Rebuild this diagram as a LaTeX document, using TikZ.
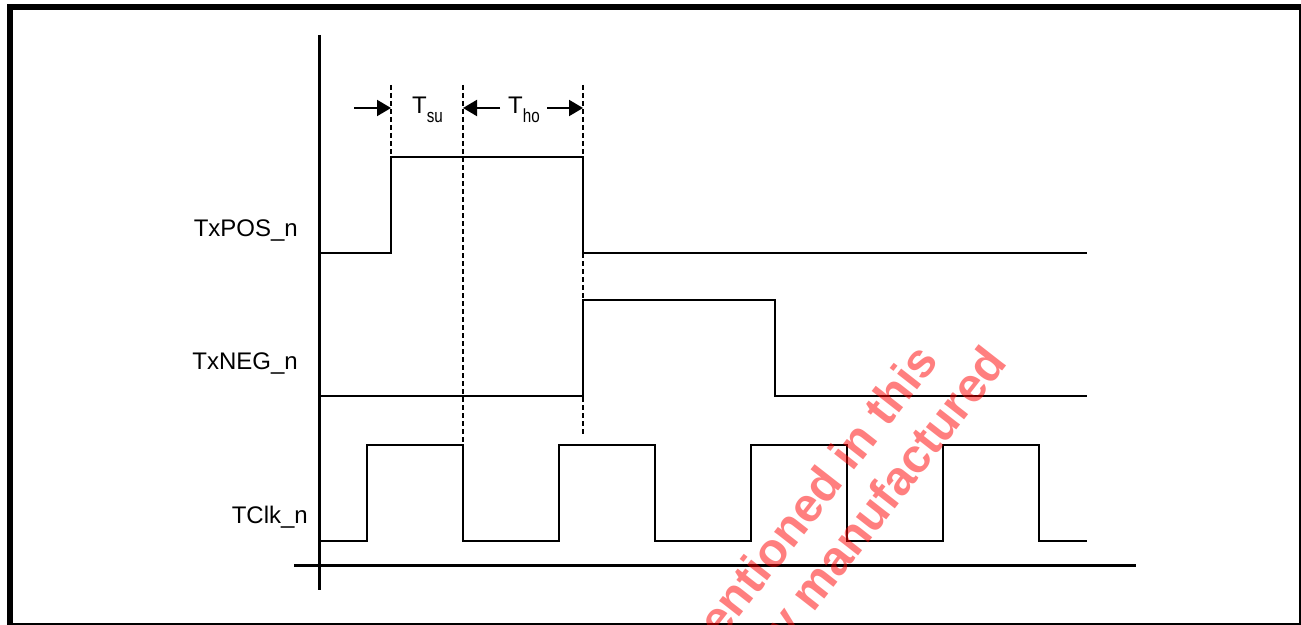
\documentclass[tikz,border=0pt]{standalone}
\usepackage{fontspec}
\setmainfont{Liberation Sans}
\usetikzlibrary{arrows.meta}
\newcommand{\subtxt}[1]{\raisebox{-9bp}{\scalebox{0.8}[1]{\fontsize{19bp}{19bp}\selectfont #1}}}
\begin{document}
\begin{tikzpicture}[x=1bp,y=-1bp,
  sig/.style={line width=2bp, line join=miter},
  axisline/.style={line width=3bp},
  guide/.style={line width=2bp, dash pattern=on 5bp off 3bp},
  dimarrow/.style={line width=2bp, -{Triangle[length=14bp,width=16bp]}},
  lbl/.style={font=\fontsize{24bp}{28bp}\selectfont, inner sep=0pt},
  wm/.style={font=\bfseries\fontsize{48bp}{52bp}\selectfont, text=red, text opacity=0.5, rotate=52, inner sep=0pt}
]
\useasboundingbox (0,0) rectangle (1301,625);
% frame
\fill (7,4) rectangle (13,625);
\fill (7,4) rectangle (1301,10);
\fill (1299,4) rectangle (1301,625);
\fill (7,623) rectangle (1301,625);
% axes
\coordinate (yTop) at (319,35);
\coordinate (yBot) at (319,590);
\coordinate (xL) at (294,565);
\coordinate (xR) at (1136,565);
\draw[axisline] (yTop) -- (yBot);
\draw[axisline] (xL) -- (xR);
% signals
\draw[sig] (320,253) -- (391,253) -- (391,157) -- (583,157) -- (583,253) -- (1087,253);
\draw[sig] (320,396) -- (583,396) -- (583,300) -- (775,300) -- (775,396) -- (1087,396);
\draw[sig] (320,541) -- (367,541) -- (367,445) -- (463,445) -- (463,541) -- (559,541)
  -- (559,445) -- (655,445) -- (655,541) -- (751,541) -- (751,445) -- (847,445)
  -- (847,541) -- (943,541) -- (943,445) -- (1039,445) -- (1039,541) -- (1087,541);
% guides
\coordinate (g1t) at (391,85); \coordinate (g1b) at (391,157);
\coordinate (g2t) at (463,85); \coordinate (g2b) at (463,445);
\coordinate (g3t) at (583,85); \coordinate (g3b) at (583,434);
\draw[guide] (g1t) -- (g1b);
\draw[guide] (g2t) -- (g2b);
\draw[guide] (g3t) -- (g3b);
% dimension arrows
\coordinate (a1s) at (354,108); \coordinate (a1e) at (391,108);
\coordinate (a2s) at (500,108); \coordinate (a2e) at (463,108);
\coordinate (a3s) at (547,108); \coordinate (a3e) at (583,108);
\draw[dimarrow] (a1s) -- (a1e);
\draw[dimarrow] (a2s) -- (a2e);
\draw[dimarrow] (a3s) -- (a3e);
% labels
\node[lbl, anchor=base west] (tsu) at (412,114) {T\subtxt{su}};
\node[lbl, anchor=base west] (tho) at (508,114) {T\subtxt{ho}};
\node[lbl, anchor=base east] (pos) at (298,236) {TxPOS\_n};
\node[lbl, anchor=base east] (neg) at (298,369) {TxNEG\_n};
\node[lbl, anchor=base east] (clk) at (308,523) {TClk\_n};
% watermark
\node[wm, anchor=base east] (wm1) at (940,361) {mentioned in this};
\node[wm, anchor=base east] (wm2) at (1009,363) {y manufactured};
\end{tikzpicture}
\end{document}
